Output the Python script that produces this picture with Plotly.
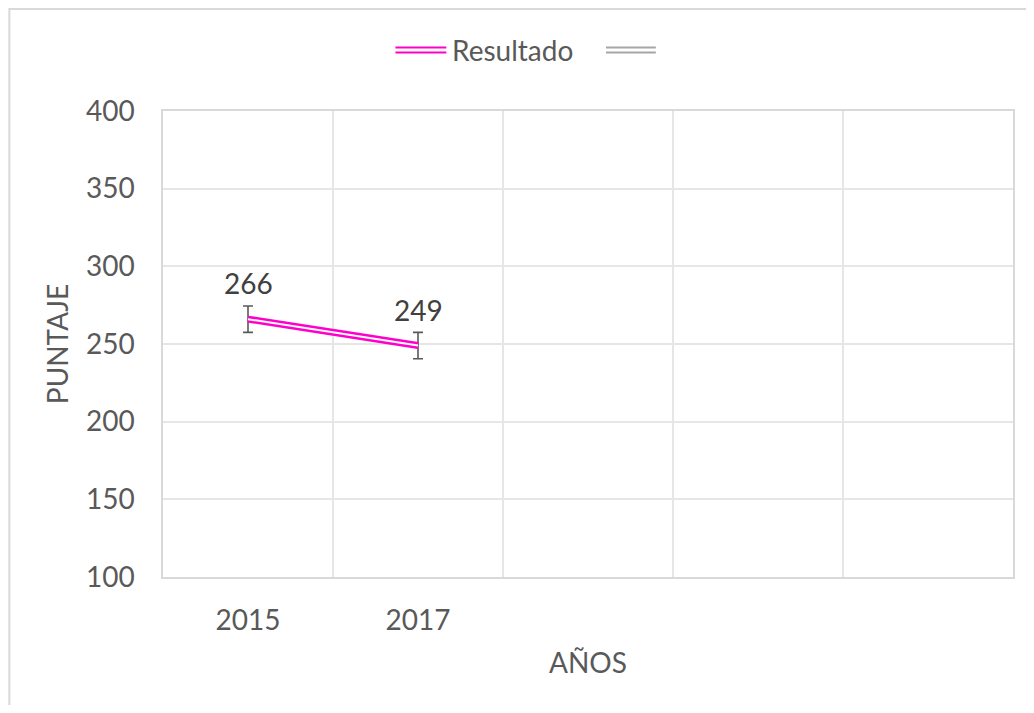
import plotly.graph_objects as go

# ---- data ----
years = ["2015", "2017"]
n_slots = 5                      # category slots shown on the x axis
scores = [266, 249]
errors = [8.5, 8.5]
series_name = "Resultado"
y_ticks = [100, 150, 200, 250, 300, 350, 400]

# page has an 8px body margin; figure placed so that page coords match the reference
OFF = 8
W, H = 1034 - 2 * OFF, 713 - 2 * OFF
P_L, P_T, P_R, P_B = 163, 111, 1015, 577        # plot area in page coords
L, T = P_L - OFF, P_T - OFF
R, B = W - (P_R - OFF), H - (P_B - OFF)
PW, PH = W - L - R, H - T - B

FONT = "Lato"
FS = 28
TICK_C = "#595959"
LBL_C = "#404040"
MAG = "#FF00CC"
GRID = "#E6E6E6"

x_pos = list(range(len(years)))

def px(xp):  # page x -> paper
    return (xp - P_L) / PW

def py(yp):  # page y -> paper
    return (P_B - yp) / PH

fig = go.Figure()
fig.add_trace(go.Scatter(
    x=x_pos, y=scores, mode="lines",
    line=dict(color=MAG, width=7),
    error_y=dict(type="data", array=errors, color="#595959", thickness=1.6, width=5),
    showlegend=False, name=series_name))
fig.add_trace(go.Scatter(
    x=x_pos, y=scores, mode="lines",
    line=dict(color="white", width=2),
    showlegend=False, hoverinfo="skip"))

# data labels
for xv, yv in zip(x_pos, scores):
    fig.add_annotation(x=xv, y=yv, text=str(yv), showarrow=False, yshift=36,
                       font=dict(family=FONT, size=FS, color=LBL_C))

shapes = []
# outer chart border (as close to the page corner as the figure allows)
shapes.append(dict(type="rect", xref="paper", yref="paper",
                   x0=px(OFF + 1), x1=px(1060), y0=py(OFF + 1), y1=py(740),
                   line=dict(color="#D9D9D9", width=2), fillcolor="rgba(0,0,0,0)", layer="below"))
# manual legend (double lines)
for (x0, x1, col) in [(396, 447, MAG), (607, 657, "#A6A6A6")]:
    for yy in (47.5, 52.5):
        shapes.append(dict(type="line", xref="paper", yref="paper",
                           x0=px(x0), x1=px(x1), y0=py(yy), y1=py(yy),
                           line=dict(color=col, width=2)))
fig.add_annotation(xref="paper", yref="paper", x=px(451), y=py(50), xanchor="left", yanchor="middle",
                   text=series_name, showarrow=False, font=dict(family=FONT, size=FS, color=TICK_C))

fig.update_layout(
    width=W, height=H,
    margin=dict(l=L, r=R, t=T, b=B, pad=0),
    paper_bgcolor="white", plot_bgcolor="white",
    font=dict(family=FONT, size=FS, color=TICK_C),
    shapes=shapes,
    showlegend=False,
    xaxis=dict(
        range=[-0.5, n_slots - 0.5],
        tickvals=x_pos, ticktext=years,
        showgrid=False, zeroline=False, ticks="",
        minor=dict(tickvals=[i + 0.5 for i in range(n_slots - 1)], showgrid=True, gridcolor=GRID, gridwidth=1.5),
        showline=True, linecolor="#D9D9D9", linewidth=1.5, mirror=True,
        ticklabelstandoff=18,
        title=dict(text="AÑOS", standoff=18, font=dict(family=FONT, size=FS, color=TICK_C)),
        tickfont=dict(family=FONT, size=FS, color=TICK_C),
    ),
    yaxis=dict(
        range=[100, 400], tickvals=y_ticks,
        showgrid=True, gridcolor=GRID, gridwidth=1.5, zeroline=False, ticks="",
        showline=True, linecolor="#D9D9D9", linewidth=1.5, mirror=True,
        ticklabelstandoff=21,
        title=dict(text="PUNTAJE", standoff=9, font=dict(family=FONT, size=FS, color=TICK_C)),
        tickfont=dict(family=FONT, size=FS, color=TICK_C),
    ),
)

fig.write_html("out.html")
